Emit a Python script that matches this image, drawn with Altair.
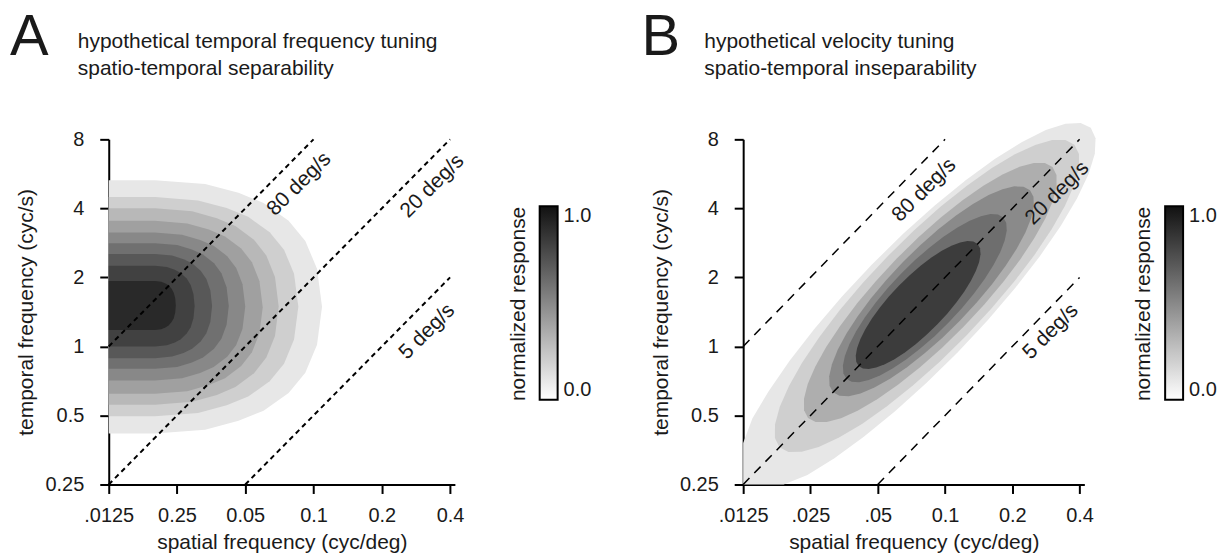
import math
import altair as alt
import numpy as np
import pandas as pd

FONT = "Liberation Sans"
INK = "#1a1a1a"

# ---------------- axes ----------------
SF_TICKS = [0.0125, 0.025, 0.05, 0.1, 0.2, 0.4]
SF_LABELS_A = [".0125", "0.25", "0.05", "0.1", "0.2", "0.4"]
SF_LABELS_B = [".0125", ".025", ".05", "0.1", "0.2", "0.4"]
TF_TICKS = [0.25, 0.5, 1, 2, 4, 8]
TF_LABELS = ["0.25", "0.5", "1", "2", "4", "8"]
SF_DOMAIN = [0.0125, 0.42]
TF_DOMAIN = [0.25, 8]

# ---------------- iso-velocity lines ----------------
SPEEDS = [80, 20, 5]
SPEED_TEXT = ["80 deg/s", "20 deg/s", "5 deg/s"]
LINE_SF_FROM = [0.0125, 0.0125, 0.05]
LINE_SF_TO = [0.1, 0.4, 0.4]
A_TEXT_SF = [0.0865, 0.334, 0.317]
A_TEXT_TF = [5.1, 5.0, 1.16]
B_TEXT_SF = [0.0807, 0.318, 0.297]
B_TEXT_TF = [4.8, 4.66, 1.16]

# ---------------- panel A contours (separable) ----------------
A_LEVELS = [0.1, 0.2, 0.3, 0.4, 0.5, 0.6, 0.7, 0.8, 0.9]
A_TF_TOP = [5.31, 4.48, 4.0, 3.53, 3.14, 2.82, 2.53, 2.25, 1.93]
A_TF_BOTTOM = [0.417, 0.496, 0.557, 0.622, 0.711, 0.799, 0.889, 0.999, 1.18]
A_SF_RIGHT = [0.109, 0.0857, 0.0702, 0.0597, 0.050, 0.0423, 0.0357, 0.0299, 0.0247]
A_SF_FLAT = 0.02
A_SF_START = 0.0125
A_PROFILE_T = [0.0, 0.3, 0.5, 0.65, 0.8, 0.9, 0.97, 1.0]
A_PROFILE_H = [1.0, 0.97, 0.9, 0.82, 0.68, 0.52, 0.30, 0.0]

# ---------------- panel B contours (inseparable) ----------------
B_LEVELS = [0.1, 0.2, 0.34, 0.49, 0.61, 0.82]
B_CENTER_SF = [0.0732, 0.083, 0.0859, 0.087, 0.0812, 0.0758]
B_HALF_LEN = [3.7, 3.1, 2.57, 2.07, 1.65, 1.25]    # octaves along the 20 deg/s diagonal
B_HALF_WID = [0.90, 0.82, 0.70, 0.60, 0.50, 0.40]  # octaves across it
B_SPEED = 20
B_ANGLES = list(range(0, 360, 10))


def label_expr(ticks, labels):
    expr = "''"
    for t, l in reversed(list(zip(ticks, labels))):
        expr = f"abs(datum.value - {t}) < {t * 0.05} ? '{l}' : ({expr})"
    return expr


def a_contour(i):
    top, bot = A_TF_TOP[i], A_TF_BOTTOM[i]
    c = math.sqrt(top * bot)
    rows = [{"sf": A_SF_START, "hi": top, "lo": bot}]
    lf, lr = math.log(A_SF_FLAT), math.log(A_SF_RIGHT[i])
    for t, h in zip(A_PROFILE_T, A_PROFILE_H):
        rows.append({
            "sf": math.exp(lf + t * (lr - lf)),
            "hi": math.exp(math.log(c) + h * (math.log(top) - math.log(c))),
            "lo": math.exp(math.log(c) - h * (math.log(c) - math.log(bot))),
        })
    df = pd.DataFrame(rows)
    df["level"] = A_LEVELS[i]
    return df


def b_contour(i):
    xc = math.log2(B_CENTER_SF[i] / 0.0125)
    yc = math.log2(B_CENTER_SF[i] * B_SPEED / 0.25)
    rows = []
    for k, a in enumerate(B_ANGLES):
        u = B_HALF_LEN[i] * math.cos(math.radians(a))
        w = B_HALF_WID[i] * math.sin(math.radians(a))
        X = max(0.0, xc + (u - w) / math.sqrt(2))
        Y = max(0.0, yc + (u + w) / math.sqrt(2))
        rows.append({"sf": 0.0125 * 2 ** X, "tf": 0.25 * 2 ** Y, "k": k})
    rows.append(dict(rows[0], k=len(B_ANGLES)))
    df = pd.DataFrame(rows)
    df["level"] = B_LEVELS[i]
    return df


def color_enc(legend_x, legend_y):
    return alt.Color(
        "level:Q",
        scale=alt.Scale(domain=[0, 1], range=["#ffffff", "#111111"], interpolate="rgb"),
        legend=alt.Legend(
            title="normalized response", orient="none", legendX=legend_x, legendY=legend_y,
            direction="vertical", gradientLength=194, gradientThickness=18,
            gradientStrokeColor="black", gradientStrokeWidth=2, values=[0, 1], format=".1f",
            labelFontSize=20, labelFont=FONT, labelColor=INK, labelOffset=6,
            titleFontSize=21, titleFont=FONT, titleColor=INK, titleFontWeight="normal",
            titleOrient="left", titleAnchor="middle", titlePadding=10, titleLimit=400,
        ),
    )


def axes(sf_labels):
    x = alt.X("sf:Q", scale=alt.Scale(type="log", base=2, domain=SF_DOMAIN, nice=False),
              axis=alt.Axis(values=SF_TICKS, labelExpr=label_expr(SF_TICKS, sf_labels),
                            labelOverlap=False, labelFlush=False, labelPadding=12,
                            title="spatial frequency (cyc/deg)", titlePadding=6))
    return x


def y_enc(field):
    return alt.Y(f"{field}:Q", scale=alt.Scale(type="log", base=2, domain=TF_DOMAIN, nice=False),
                 axis=alt.Axis(values=TF_TICKS, labelExpr=label_expr(TF_TICKS, TF_LABELS),
                               labelOverlap=False, labelFlush=False, labelPadding=16,
                               title="temporal frequency (cyc/s)", titlePadding=8))


def speed_lines(text_sf, text_tf, dash, width):
    rows = []
    for s, a, b in zip(SPEEDS, LINE_SF_FROM, LINE_SF_TO):
        rows.append({"speed": s, "sf": a, "tf": a * s})
        rows.append({"speed": s, "sf": b, "tf": b * s})
    ldf = pd.DataFrame(rows)
    lines = alt.Chart(ldf).mark_line(color="black", strokeDash=dash, strokeWidth=width).encode(
        x=alt.X("sf:Q", scale=alt.Scale(type="log", base=2, domain=SF_DOMAIN, nice=False)),
        y=alt.Y("tf:Q", scale=alt.Scale(type="log", base=2, domain=TF_DOMAIN, nice=False)),
        detail="speed:N",
    )
    tdf = pd.DataFrame({"sf": text_sf, "tf": text_tf, "label": SPEED_TEXT})
    texts = alt.Chart(tdf).mark_text(angle=315, fontSize=21, font=FONT, color=INK).encode(
        x="sf:Q", y="tf:Q", text="label:N")
    return lines + texts


def header(letter, line1, line2, lx, tx):
    d = pd.DataFrame({"a": [letter]})
    big = alt.Chart(d).mark_text(fontSize=58, font=FONT, color=INK, align="left",
                                 baseline="alphabetic").encode(
        text="a:N", x=alt.value(lx), y=alt.value(-85))
    d1 = pd.DataFrame({"a": [line1]})
    t1 = alt.Chart(d1).mark_text(fontSize=21, font=FONT, color=INK, align="left",
                                 baseline="alphabetic").encode(
        text="a:N", x=alt.value(tx), y=alt.value(-92))
    d2 = pd.DataFrame({"a": [line2]})
    t2 = alt.Chart(d2).mark_text(fontSize=21, font=FONT, color=INK, align="left",
                                 baseline="alphabetic").encode(
        text="a:N", x=alt.value(tx), y=alt.value(-64))
    return big + t1 + t2


# ---- panel A ----
a_layers = []
for i in range(len(A_LEVELS)):
    a_layers.append(
        alt.Chart(a_contour(i)).mark_area(strokeWidth=0).encode(
            x=axes(SF_LABELS_A), y=y_enc("hi"), y2="lo:Q", color=color_enc(400, 67))
    )
panel_a = alt.layer(
    *a_layers,
    speed_lines(A_TEXT_SF, A_TEXT_TF, [5, 4], 2),
    header("A", "hypothetical temporal frequency tuning", "spatio-temporal separability", -99, -31),
).properties(width=347, height=346)

# ---- panel B ----
b_layers = []
for i in range(len(B_LEVELS)):
    b_layers.append(
        alt.Chart(b_contour(i)).mark_line(filled=True, strokeWidth=0).encode(
            x=axes(SF_LABELS_B), y=y_enc("tf"), order="k:Q", color=color_enc(391, 67))
    )
panel_b = alt.layer(
    *b_layers,
    speed_lines(B_TEXT_SF, B_TEXT_TF, [9, 7], 1.5),
    header("B", "hypothetical velocity tuning", "spatio-temporal inseparability", -102, -39),
).properties(width=342, height=346)

chart = (
    alt.hconcat(panel_a, panel_b, spacing=50)
    .resolve_scale(color="independent")
    .resolve_legend(color="independent")
    .properties(padding={"left": 10, "top": 8, "right": 5, "bottom": 5})
    .configure_view(stroke=None)
    .configure_axis(
        grid=False, domainColor="black", domainWidth=2, tickColor="black", tickWidth=2,
        tickSize=9, labelFontSize=20, labelFont=FONT, labelColor=INK,
        titleFontSize=21, titleFont=FONT, titleColor=INK, titleFontWeight="normal",
    )
)

chart.save("out.html", embed_options={"renderer": "svg", "actions": False})
